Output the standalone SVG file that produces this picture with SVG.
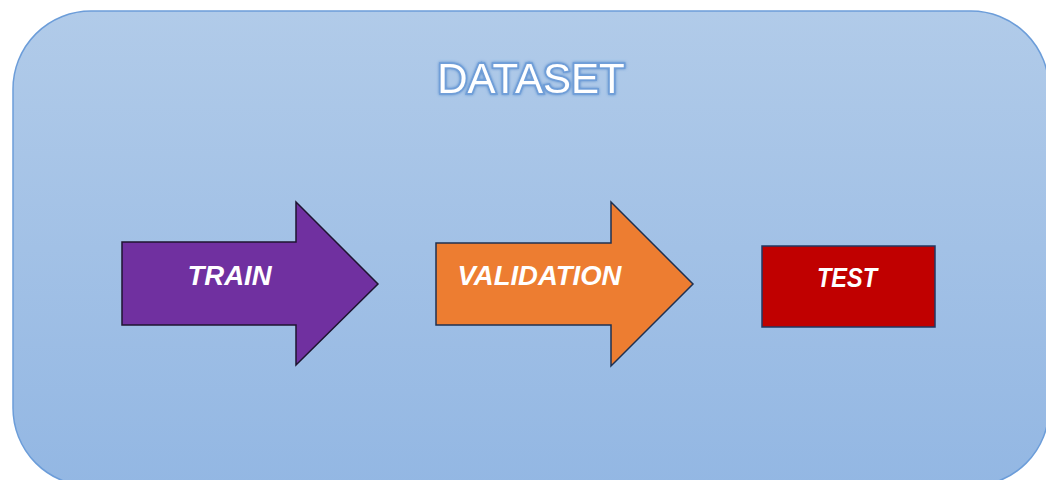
<svg xmlns="http://www.w3.org/2000/svg" width="1046" height="480" viewBox="0 0 1046 480">
<defs>
<linearGradient id="bg" x1="0" y1="0" x2="0" y2="1">
<stop offset="0" stop-color="#B1CBE9"/>
<stop offset="1" stop-color="#93B7E3"/>
</linearGradient>
<filter id="glow" x="-10%" y="-30%" width="120%" height="160%">
<feGaussianBlur in="SourceAlpha" stdDeviation="1.8" result="b"/>
<feFlood flood-color="#4F86C9" flood-opacity="0.9"/>
<feComposite in2="b" operator="in" result="g"/>
<feMerge><feMergeNode in="g"/><feMergeNode in="SourceGraphic"/></feMerge>
</filter>
</defs>
<style>
.lbl{font-family:"Liberation Sans",Arial,sans-serif;font-weight:bold;font-style:italic;fill:#FFFFFF;text-anchor:middle;}
.shape{stroke-width:1.5;stroke-linejoin:miter;}
</style>
<rect width="1046" height="480" fill="#FFFFFF"/>
<g id="dataset">
<rect x="13" y="11" width="1036" height="475" rx="78" ry="78" fill="url(#bg)" stroke="#6C9DD9" stroke-width="1.5"/>
<text x="531" y="93" font-family="Liberation Sans, Arial, sans-serif" font-size="42" fill="#FFFFFF" text-anchor="middle" stroke="#6F9ED8" stroke-width="3.5" paint-order="stroke" filter="url(#glow)">DATASET</text>
</g>
<g id="connectors"></g>
<g id="train">
<polygon class="shape" points="122,242 296,242 296,202 378,284 296,365 296,325 122,325" fill="#7030A0" stroke="#1E1430"/>
<text class="lbl" x="229.5" y="285" font-size="27.5">TRAIN</text>
</g>
<g id="validation">
<polygon class="shape" points="436,243 611,243 611,202 693,284 611,366 611,325 436,325" fill="#ED7D31" stroke="#1F3050"/>
<text class="lbl" x="539.5" y="285" font-size="27.5">VALIDATION</text>
</g>
<g id="test">
<rect class="shape" x="762" y="246" width="173" height="81" fill="#C00000" stroke="#203864"/>
<text class="lbl" x="847" y="287" font-size="28" textLength="60" lengthAdjust="spacingAndGlyphs">TEST</text>
</g>
</svg>
